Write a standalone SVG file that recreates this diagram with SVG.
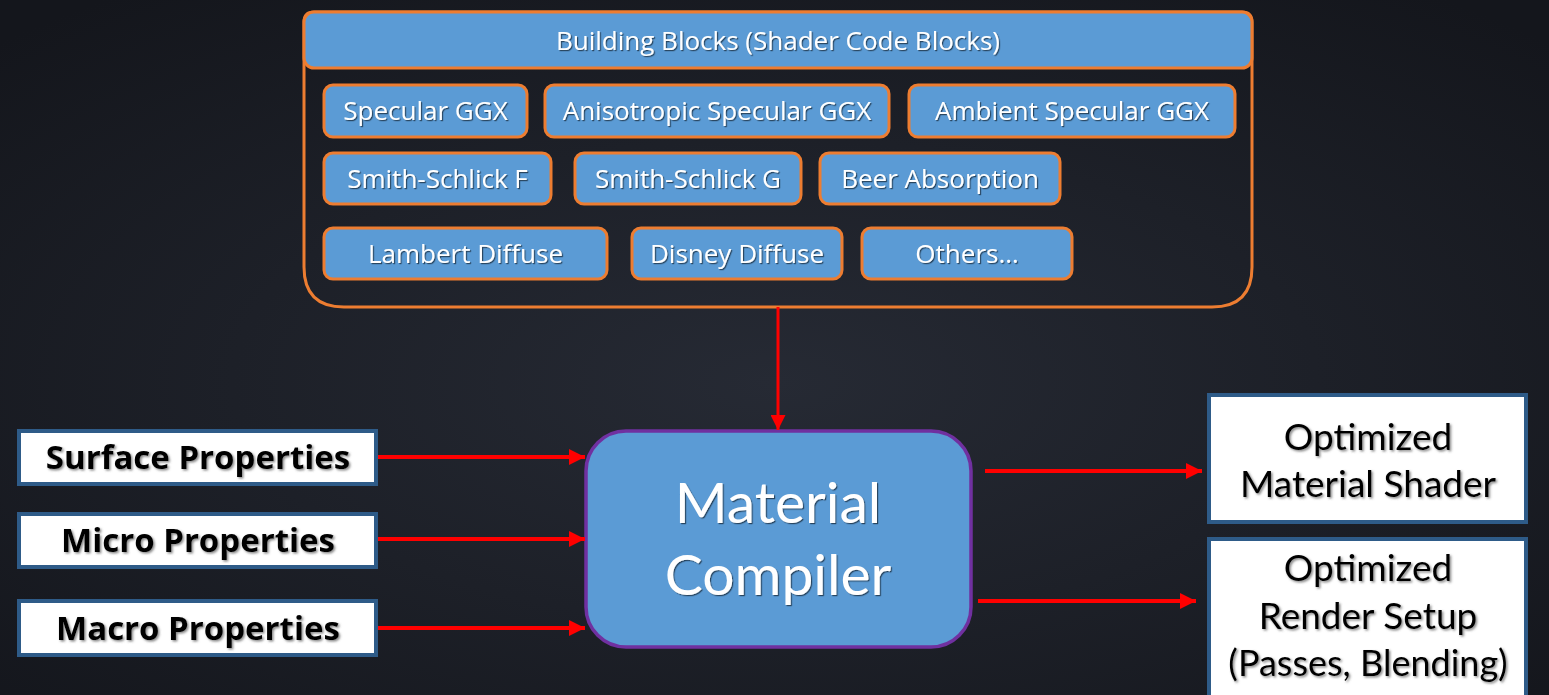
<svg xmlns="http://www.w3.org/2000/svg" width="1549" height="695" viewBox="0 0 1549 695">
<defs>
  <radialGradient id="bg" cx="50%" cy="55%" r="70%">
    <stop offset="0" stop-color="#262a34"/>
    <stop offset="1" stop-color="#14161c"/>
  </radialGradient>
  <filter id="shw" x="-5%" y="-20%" width="110%" height="140%">
    <feDropShadow dx="1.2" dy="1.2" stdDeviation="0.6" flood-color="#000" flood-opacity="0.55"/>
  </filter>
  <filter id="shb" x="-5%" y="-20%" width="110%" height="140%">
    <feDropShadow dx="1.5" dy="1.5" stdDeviation="0.8" flood-color="#555" flood-opacity="0.7"/>
  </filter>
  <marker id="ah" viewBox="0 0 10 10" refX="10" refY="5" markerWidth="4" markerHeight="4" orient="auto" markerUnits="strokeWidth">
    <path d="M0,0 L10,5 L0,10 z" fill="#ff0000"/>
  </marker>
  <marker id="ah2" viewBox="0 0 10 10" refX="10" refY="5" markerWidth="5" markerHeight="5" orient="auto" markerUnits="strokeWidth">
    <path d="M0,0 L10,5 L0,10 z" fill="#ff0000"/>
  </marker>
</defs>
<style>
  .blk { fill: #5b9bd5; stroke: #ed7d31; stroke-width: 3; }
  .wt { font-family: "Open Sans", Lato, sans-serif; fill: #ffffff; text-anchor: middle; filter: url(#shw); }
  .wl { font-family: Lato, "Open Sans", sans-serif; fill: #ffffff; text-anchor: middle; filter: url(#shw); }
  .bt { font-family: "Open Sans", Lato, sans-serif; fill: #000000; text-anchor: middle; filter: url(#shb); }
  .bl { font-family: Lato, "Open Sans", sans-serif; fill: #000000; text-anchor: middle; filter: url(#shb); }
  .inbox { fill: #ffffff; stroke: #2e5b88; stroke-width: 4; }
  .arr { stroke: #ff0000; stroke-width: 4; fill: none; marker-end: url(#ah); }
</style>
<rect width="1549" height="695" fill="url(#bg)"/>

<g id="building-blocks">
  <path d="M314,12 H1242 Q1252,12 1252,22 V267 Q1252,307 1212,307 H344 Q304,307 304,267 V22 Q304,12 314,12 Z" fill="none" stroke="#ed7d31" stroke-width="3"/>
  <rect class="blk" x="304" y="12" width="948" height="56" rx="10"/>
  <text class="wt" x="778" y="50" font-size="26">Building Blocks (Shader Code Blocks)</text>
</g>

<g id="specular-ggx"><rect class="blk" x="324" y="85" width="203" height="52" rx="9"/><text class="wt" x="425.5" y="120" font-size="26">Specular GGX</text></g>
<g id="anisotropic-specular-ggx"><rect class="blk" x="545" y="85" width="344" height="52" rx="9"/><text class="wt" x="717" y="120" font-size="26">Anisotropic Specular GGX</text></g>
<g id="ambient-specular-ggx"><rect class="blk" x="909" y="85" width="326" height="52" rx="9"/><text class="wt" x="1072" y="120" font-size="26">Ambient Specular GGX</text></g>

<g id="smith-schlick-f"><rect class="blk" x="324" y="153" width="227" height="51" rx="9"/><text class="wt" x="437.5" y="188" font-size="26">Smith-Schlick F</text></g>
<g id="smith-schlick-g"><rect class="blk" x="575" y="153" width="226" height="51" rx="9"/><text class="wt" x="688" y="188" font-size="26">Smith-Schlick G</text></g>
<g id="beer-absorption"><rect class="blk" x="820" y="153" width="240" height="51" rx="9"/><text class="wt" x="940" y="188" font-size="26">Beer Absorption</text></g>

<g id="lambert-diffuse"><rect class="blk" x="324" y="228" width="283" height="51" rx="9"/><text class="wt" x="465.5" y="263" font-size="26">Lambert Diffuse</text></g>
<g id="disney-diffuse"><rect class="blk" x="632" y="228" width="210" height="51" rx="9"/><text class="wt" x="737" y="263" font-size="26">Disney Diffuse</text></g>
<g id="others"><rect class="blk" x="862" y="228" width="210" height="51" rx="9"/><text class="wt" x="967" y="263" font-size="26">Others…</text></g>

<g id="material-compiler">
  <rect x="586" y="431" width="385" height="216" rx="40" fill="#5b9bd5" stroke="#7030a0" stroke-width="3.5"/>
  <text class="wl" x="778" y="523" font-size="57">Material</text>
  <text class="wl" x="778" y="595" font-size="57">Compiler</text>
</g>

<g id="surface-properties"><rect class="inbox" x="19" y="431" width="357" height="53"/><text class="bt" x="198" y="469" font-size="33" font-weight="bold">Surface Properties</text></g>
<g id="micro-properties"><rect class="inbox" x="19" y="514" width="357" height="53"/><text class="bt" x="198" y="552" font-size="33" font-weight="bold">Micro Properties</text></g>
<g id="macro-properties"><rect class="inbox" x="19" y="601" width="357" height="54"/><text class="bt" x="198" y="640" font-size="33" font-weight="bold">Macro Properties</text></g>

<g id="optimized-material-shader"><rect class="inbox" x="1209" y="395" width="317" height="127"/><text class="bl" x="1368" y="450" font-size="37">Optimized</text><text class="bl" x="1368" y="497" font-size="37">Material Shader</text></g>
<g id="optimized-render-setup"><rect class="inbox" x="1209" y="539" width="317" height="170"/><text class="bl" x="1368" y="581" font-size="37">Optimized</text><text class="bl" x="1368" y="629" font-size="37">Render Setup</text><text class="bl" x="1368" y="676" font-size="36">(Passes, Blending)</text></g>

<g id="connectors">
  <line class="arr" x1="778" y1="307" x2="778" y2="430" style="stroke-width:3;marker-end:url(#ah2)"/>
  <line class="arr" x1="378" y1="457" x2="585" y2="457"/>
  <line class="arr" x1="378" y1="539" x2="585" y2="539"/>
  <line class="arr" x1="378" y1="628" x2="585" y2="628"/>
  <line class="arr" x1="985" y1="471" x2="1202" y2="471"/>
  <line class="arr" x1="978" y1="601" x2="1196" y2="601"/>
</g>
</svg>
